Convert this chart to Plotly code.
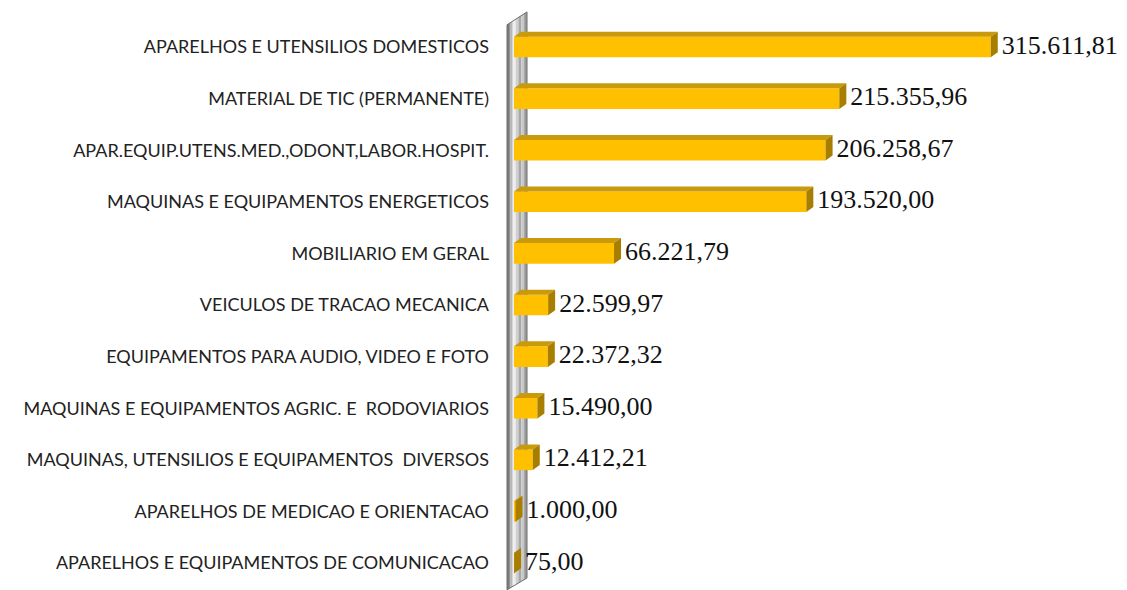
import plotly.graph_objects as go

# categories from bottom to top
categories = [
    "APARELHOS E EQUIPAMENTOS DE COMUNICACAO",
    "APARELHOS DE MEDICAO E ORIENTACAO",
    "MAQUINAS, UTENSILIOS E EQUIPAMENTOS  DIVERSOS",
    "MAQUINAS E EQUIPAMENTOS AGRIC. E  RODOVIARIOS",
    "EQUIPAMENTOS PARA AUDIO, VIDEO E FOTO",
    "VEICULOS DE TRACAO MECANICA",
    "MOBILIARIO EM GERAL",
    "MAQUINAS E EQUIPAMENTOS ENERGETICOS",
    "APAR.EQUIP.UTENS.MED.,ODONT,LABOR.HOSPIT.",
    "MATERIAL DE TIC (PERMANENTE)",
    "APARELHOS E UTENSILIOS DOMESTICOS",
]
values = [75.00, 1000.00, 12412.21, 15490.00, 22372.32, 22599.97,
          66221.79, 193520.00, 206258.67, 215355.96, 315611.81]
value_labels = ["75,00", "1.000,00", "12.412,21", "15.490,00", "22.372,32", "22.599,97",
                "66.221,79", "193.520,00", "206.258,67", "215.355,96", "315.611,81"]

FRONT = "#FFC000"
TOP = "#C89A0C"
SIDE = "#A87E00"

px_unit = 662.0       # data units per pixel on x
row_px = 51.6         # pixels per category on y
dx = 7 * px_unit      # depth offset x
dy = 5 / row_px       # depth offset y
half = 0.2            # half bar thickness

ypos = list(range(len(categories)))

# 3D faces built from the data
top_x, top_y, side_x, side_y = [], [], [], []
for y, v in zip(ypos, values):
    top_x += [0, v, v + dx, dx, 0, None]
    top_y += [y + half, y + half, y + half + dy, y + half + dy, y + half, None]
    side_x += [v, v + dx, v + dx, v, v, None]
    side_y += [y - half, y - half + dy, y + half + dy, y + half, y - half, None]

fig = go.Figure()

fig.add_trace(go.Scatter(x=top_x, y=top_y, mode="lines", fill="toself",
                         fillcolor=TOP, line=dict(width=0), hoverinfo="skip"))
fig.add_trace(go.Scatter(x=side_x, y=side_y, mode="lines", fill="toself",
                         fillcolor=SIDE, line=dict(width=0), hoverinfo="skip"))
fig.add_trace(go.Bar(x=values, y=ypos, orientation="h", width=2 * half,
                     marker=dict(color=FRONT, line=dict(width=0))))
fig.add_trace(go.Scatter(
    x=[v + dx + 4 * px_unit for v in values], y=ypos, mode="text",
    text=value_labels, textposition="middle right",
    textfont=dict(family="Liberation Serif", size=26, color="#111111"),
    cliponaxis=False, hoverinfo="skip"))

# wall on the left (decoration)
x_left = -7 * px_unit
x_right = 13 * px_unit
y_bot_l, y_top_l = -0.52, 10.43
y_top_r, y_bot_r = 10.68, -0.29
greys = ["#7a7a7a", "#b8b8b8", "#eeeeee", "#d0d0d0", "#a8a8a8", "#c8c8c8", "#9a9a9a"]
n = len(greys)
for i, g in enumerate(greys):
    f0, f1 = i / n, (i + 1) / n
    xa = x_left + (x_right - x_left) * f0
    xb = x_left + (x_right - x_left) * f1
    ta = y_top_l + (y_top_r - y_top_l) * f0
    tb = y_top_l + (y_top_r - y_top_l) * f1
    ba = y_bot_l + (y_bot_r - y_bot_l) * f0
    bb = y_bot_l + (y_bot_r - y_bot_l) * f1
    fig.add_shape(type="path", xref="x", yref="y", layer="below",
                  path=f"M {xa},{ba} L {xa},{ta} L {xb},{tb} L {xb},{bb} Z",
                  fillcolor=g, line=dict(width=0))
fig.add_shape(type="path", xref="x", yref="y", layer="below",
              path=f"M {x_left},{y_bot_l} L {x_left},{y_top_l} L {x_right},{y_top_r} "
                   f"L {x_right},{y_bot_r} Z",
              fillcolor="rgba(0,0,0,0)", line=dict(color="#6e6e6e", width=1))

# page body adds an 8px offset, so the figure is laid out 8px up/left
left_margin = 497
zero_px = 506
x0 = -(zero_px - left_margin) * px_unit
x1 = x0 + (1127 - left_margin) * px_unit
ymax = 10 + 39 / row_px
ymin = ymax - 590 / row_px

fig.update_layout(
    width=1127, height=590,
    margin=dict(l=left_margin, r=0, t=0, b=0),
    plot_bgcolor="white", paper_bgcolor="white",
    showlegend=False, hovermode=False,
    xaxis=dict(range=[x0, x1], visible=False, showgrid=False, zeroline=False),
    yaxis=dict(range=[ymin, ymax], tickvals=ypos, ticktext=categories,
               showgrid=False, zeroline=False, showline=False,
               ticks="", ticklabelstandoff=15,
               tickfont=dict(family="Lato", size=18, color="#222222")),
)

fig.write_html("out.html")
